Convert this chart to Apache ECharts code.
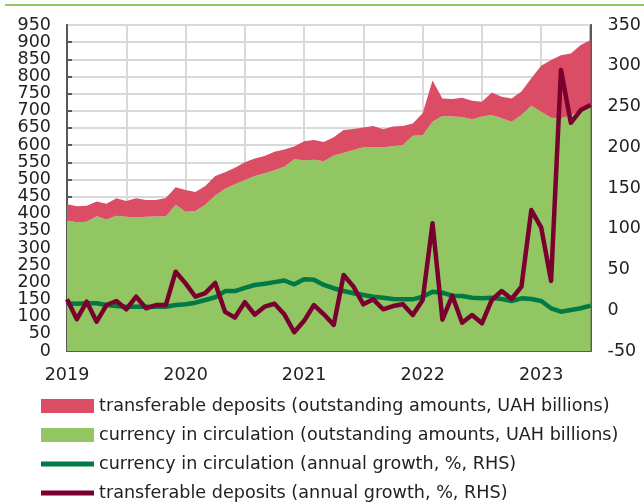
<!DOCTYPE html>
<html lang="en">
<head>
    <meta charset="UTF-8">
    <title>Currency and transferable deposits</title>
    <script src="https://cdn.jsdelivr.net/npm/echarts@6/dist/echarts.min.js"></script>
    <style>
        body { margin: 0; background: #fff; }
    </style>
</head>
<body>
<div id="chartmain" style="width: 644px; height: 504px;"></div>
<script type="text/javascript">
    // monthly data, Jan 2019 - Jun 2023
    var years = ['2019', '2020', '2021', '2022', '2023'];
    var lastYearMonths = 6;

    // UAH billions (left axis)
    var currencyAmount = [
        380, 375, 377, 393, 383, 394, 391, 390, 391, 392, 393, 426,
        406, 408, 426, 453, 473, 486, 498, 510, 518, 527, 537, 559,
        556, 557, 553, 570, 578, 586, 594, 594, 594, 597, 600, 627,
        629, 668, 685, 683, 682, 675, 683, 688, 678, 668, 688, 715,
        697, 680, 678, 686, 702, 714
    ];
    var totalAmount = [
        428, 422, 423, 436, 429, 445, 437, 445, 440, 440, 446, 477,
        469, 463, 481, 510, 521, 534, 550, 561, 568, 581, 587, 596,
        611, 615, 609, 623, 644, 647, 651, 656, 646, 654, 656, 663,
        693, 788, 736, 734, 738, 729, 726, 753, 741, 736, 756, 795,
        831, 848, 862, 867, 892, 906
    ];
    // annual growth, % (right axis)
    var currencyGrowth = [
        8.5, 8, 8.5, 8.5, 6.4, 5.2, 4.4, 4.4, 4.4, 4.4, 4.4, 6.4,
        7.3, 9.3, 12.6, 15.9, 23.5, 23.5, 27.5, 31, 32.5, 34.5, 36.5, 31.8,
        38, 37.5, 31, 27, 23.6, 20.8, 18.7, 16.6, 15.4, 13.8, 13.4, 13.4,
        16.6, 22.8, 21.5, 17.9, 17.5, 15.4, 14.6, 15.4, 13.8, 11.4, 14.6, 13.8,
        11.4, 2.4, -1.8, 0.3, 2.4, 5.6
    ];
    var depositsGrowth = [
        13.4, -11, 10.5, -14, 6.4, 11.4, 1.2, 16.6, 2.4, 6.4, 6.4, 47.3,
        33, 16.6, 21, 33.5, -2, -9, 10, -5.5, 4.4, 8, -5, -27,
        -13, 6.4, -5, -18, 43.3, 29, 7.3, 13.4, 1.2, 5.2, 7.3, -5.8,
        12.6, 106.7, -11.5, 17.9, -15.3, -5.8, -16, 12.6, 23.6, 13.8, 29, 123,
        101.3, 36, 294.8, 230, 245.7, 251.8
    ];
    // axis ranges
    var leftMin = 0, leftMax = 950, leftStep = 50;
    var rightMin = -50, rightMax = 350, rightStep = 50;

    var months = [];
    for (var y = 0; y < years.length; y++) {
        var n = (y === years.length - 1) ? lastYearMonths : 12;
        for (var m = 1; m <= n; m++) {
            months.push(years[y] + '-' + (m < 10 ? '0' + m : m));
        }
    }
    var depositsAmount = [];
    for (var i = 0; i < totalAmount.length; i++) {
        depositsAmount.push(totalAmount[i] - currencyAmount[i]);
    }

    var names = [
        'transferable deposits (outstanding amounts, UAH billions)',
        'currency in circulation (outstanding amounts, UAH billions)',
        'currency in circulation (annual growth, %, RHS)',
        'transferable deposits (annual growth, %, RHS)'
    ];
    var font = 'DejaVu Sans, sans-serif';
    var lineIcon = 'path://M0,0 L52,0 L52,5 L0,5 Z';
    var axisColor = '#595959';
    var labelStyle = { fontSize: 17.5, color: '#222', fontFamily: font };

    // main axis: inner labels, ticks, lines
    function mainAxis(pos, min, max, step, margin, split) {
        return {
            type: 'value', position: pos,
            min: min, max: max, interval: step,
            axisLine: { show: true, lineStyle: { color: axisColor, width: 2 } },
            axisTick: { show: true, inside: true, length: 5, lineStyle: { color: axisColor, width: 2 } },
            axisLabel: Object.assign({ margin: margin, showMinLabel: false, showMaxLabel: false }, labelStyle),
            splitLine: split ? { lineStyle: { color: '#d9d9d9', width: 2 } } : { show: false }
        };
    }
    // end axis: only the two end labels (ECharts would otherwise drop one of a crowded pair)
    function endAxis(pos, min, max, margin) {
        return {
            type: 'value', position: pos,
            min: min, max: max, interval: max - min,
            axisLine: { show: false }, axisTick: { show: false }, splitLine: { show: false },
            axisLabel: Object.assign({ margin: margin, showMinLabel: true, showMaxLabel: true }, labelStyle)
        };
    }

    var myChart = echarts.init(document.getElementById('chartmain'));
    var option = {
        animation: false,
        graphic: [{
            type: 'rect',
            shape: { x: 5, y: 4, width: 639, height: 2 },
            style: { fill: '#92c663' }
        }],
        grid: {
            left: 67, right: 51, top: 25, bottom: 153,
            show: true, borderColor: axisColor, borderWidth: 2,
            containLabel: false
        },
        legend: {
            orient: 'vertical',
            left: 41,
            top: 397,
            padding: 0,
            itemWidth: 53,
            itemHeight: 14,
            itemGap: 11,
            itemStyle: { borderWidth: 0 },
            textStyle: { fontSize: 17.6, color: '#222', fontFamily: font },
            data: [
                { name: names[0], icon: 'rect' },
                { name: names[1], icon: 'rect' },
                { name: names[2], icon: lineIcon },
                { name: names[3], icon: lineIcon }
            ]
        },
        xAxis: {
            type: 'category',
            data: months,
            boundaryGap: false,
            axisLine: { lineStyle: { color: axisColor, width: 2 } },
            axisTick: {
                inside: true, length: 6,
                interval: function (idx) { return idx % 12 === 0; },
                lineStyle: { color: axisColor, width: 2 }
            },
            axisLabel: Object.assign({
                interval: function (idx) { return idx % 12 === 0; },
                formatter: function (v) { return v.slice(0, 4); },
                margin: 15
            }, labelStyle),
            splitLine: {
                show: true,
                interval: function (idx) { return idx % 6 === 0; },
                lineStyle: { color: '#d9d9d9', width: 2 }
            }
        },
        yAxis: [
            mainAxis('left', leftMin, leftMax, leftStep, 16, true),
            mainAxis('right', rightMin, rightMax, rightStep, 17, false),
            endAxis('left', leftMin, leftMax, 16),
            endAxis('right', rightMin, rightMax, 17)
        ],
        series: [{
            name: names[1],
            type: 'line',
            stack: 'amount',
            data: currencyAmount,
            symbol: 'none',
            lineStyle: { width: 0 },
            itemStyle: { color: '#92c663' },
            areaStyle: { color: '#92c663', opacity: 1 }
        }, {
            name: names[0],
            type: 'line',
            stack: 'amount',
            data: depositsAmount,
            symbol: 'none',
            lineStyle: { width: 0 },
            itemStyle: { color: '#db4c65' },
            areaStyle: { color: '#db4c65', opacity: 1 }
        }, {
            name: names[2],
            type: 'line',
            yAxisIndex: 1,
            data: currencyGrowth,
            symbol: 'none',
            lineStyle: { width: 4.5, color: '#007a45', join: 'round' },
            itemStyle: { color: '#007a45' }
        }, {
            name: names[3],
            type: 'line',
            yAxisIndex: 1,
            data: depositsGrowth,
            symbol: 'none',
            lineStyle: { width: 4.5, color: '#7a0030', join: 'round' },
            itemStyle: { color: '#7a0030' }
        }]
    };
    myChart.setOption(option);
</script>
</body>
</html>
